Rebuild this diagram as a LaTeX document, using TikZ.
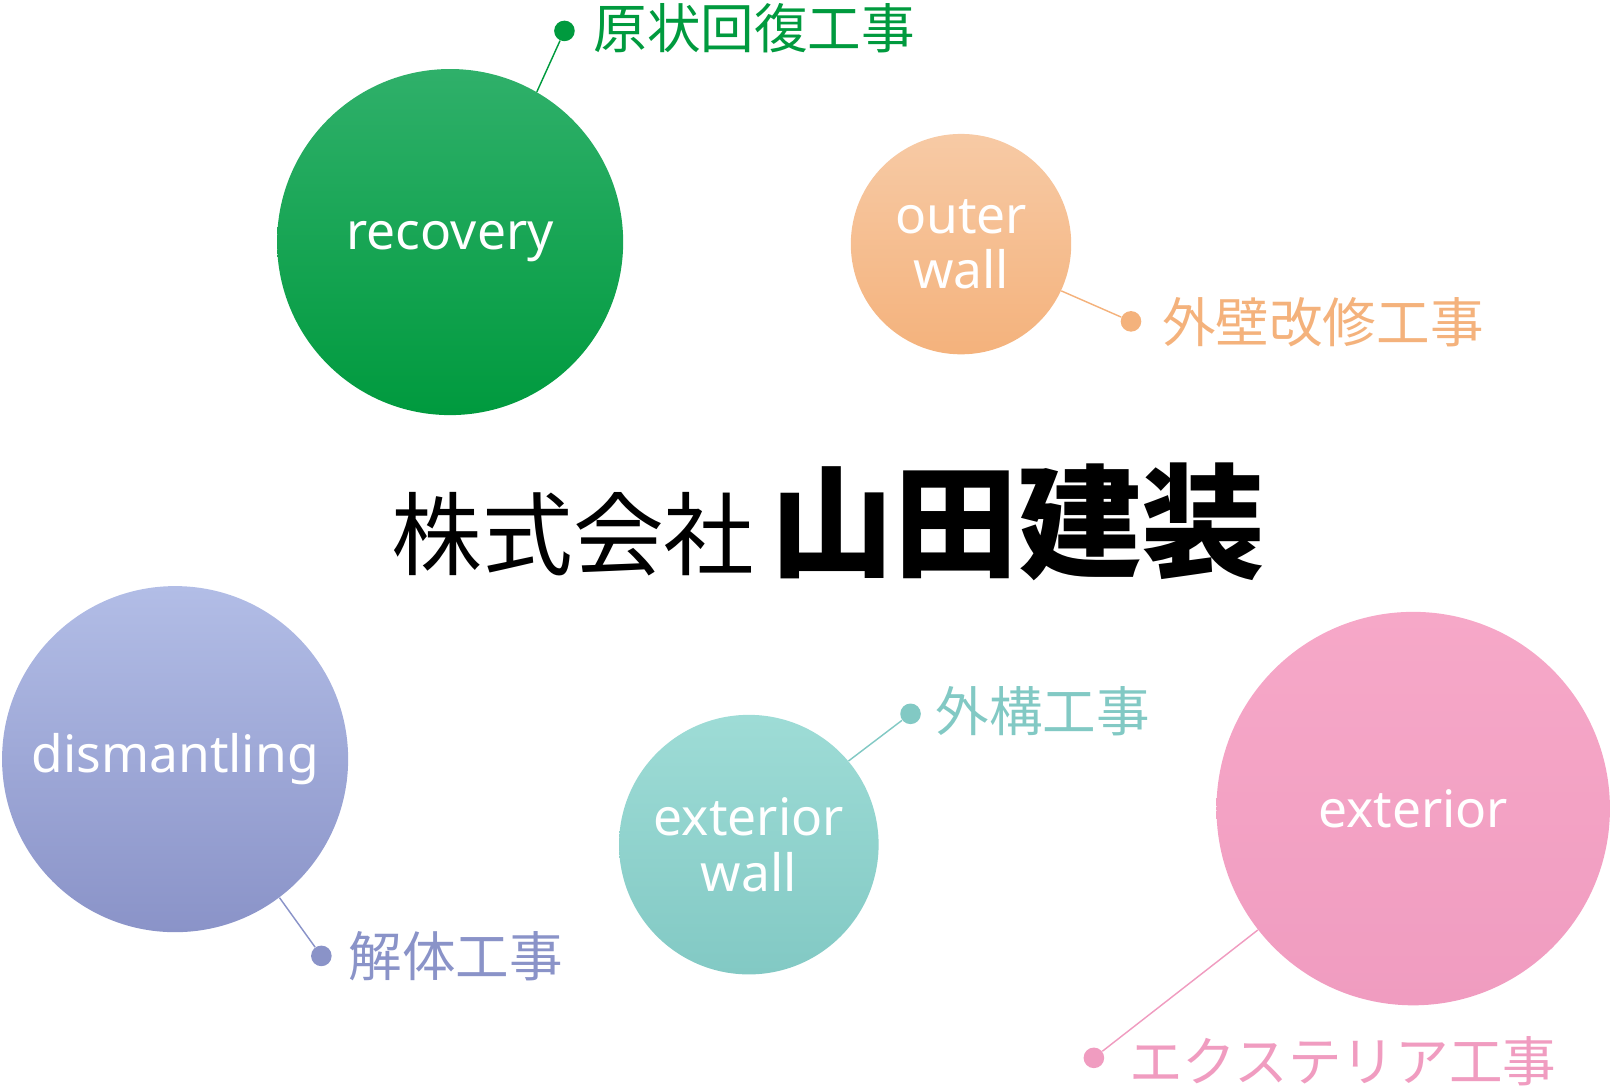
\documentclass[tikz,border=0pt]{standalone}
\usepackage{fontspec}
\setmainfont{Noto Sans}
\newfontfamily\cjk{Noto Sans CJK JP}
\begin{document}
\begin{tikzpicture}[x=0.5pt,y=-0.5pt,
 bub/.style={circle,draw=none,inner sep=0pt,text=white,align=center,font=\fontsize{25}{27}\selectfont},
 dot/.style={circle,inner sep=0pt,minimum size=10pt},
 lab/.style={anchor=west,inner sep=0pt,font=\cjk\fontsize{26}{28}\selectfont},
 lead/.style={line width=0.7pt}]
\useasboundingbox (0,0) rectangle (1565,1056);
\definecolor{g1}{HTML}{2FB06A}\definecolor{g2}{HTML}{009A3E}
\definecolor{o1}{HTML}{F7CAA5}\definecolor{o2}{HTML}{F4B27C}
\definecolor{b1}{HTML}{B2BDE6}\definecolor{b2}{HTML}{8A93C8}
\definecolor{t1}{HTML}{9EDCD6}\definecolor{t2}{HTML}{82C9C4}
\definecolor{p1}{HTML}{F6A8C8}\definecolor{p2}{HTML}{F09CC0}
% circles
\node[bub,minimum size=168pt,top color=g1,bottom color=g2] (rec) at (437,235) {recovery};
\node[bub,minimum size=107pt,top color=o1,bottom color=o2] (out) at (933,237) {outer\\wall};
\node[bub,minimum size=168pt,top color=b1,bottom color=b2] (dis) at (170,737) {dismantling};
\node[bub,minimum size=126pt,top color=t1,bottom color=t2] (exw) at (727,820) {exterior\\wall};
\node[bub,minimum size=191pt,top color=p1,bottom color=p2] (ext) at (1372,785) {exterior};
% title
\node[anchor=base west,inner sep=0pt,font=\cjk\fontsize{44}{46}\selectfont] (t1) at (380,552) {株式会社};
\node[anchor=base west,inner sep=0pt,font=\cjk\bfseries\fontsize{60}{62}\selectfont] (t2) at (748,552) {山田建装};
% leaders
\node[dot,fill=g2] (d1) at (548,30) {};
\node[lab,text=g2] (l1) at (576,27) {原状回復工事};
\draw[lead,draw=g2] (rec.60) -- (d1);
\node[dot,fill=o2] (d2) at (1098,312) {};
\node[lab,text=o2] (l2) at (1128,313) {外壁改修工事};
\draw[lead,draw=o2] (out.-25) -- (d2);
\node[dot,fill=b2] (d3) at (312,928) {};
\node[lab,text=b2] (l3) at (338,928) {解体工事};
\draw[lead,draw=b2] (dis.-53) -- (d3);
\node[dot,fill=t2] (d4) at (884,693) {};
\node[lab,text=t2] (l4) at (908,690) {外構工事};
\draw[lead,draw=t2] (exw.40) -- (d4);
\node[dot,fill=p2] (d5) at (1062,1027) {};
\node[lab,text=p2] (l5) at (1096,1030) {エクステリア工事};
\draw[lead,draw=p2] (ext.-142) -- (d5);
\end{tikzpicture}
\end{document}
